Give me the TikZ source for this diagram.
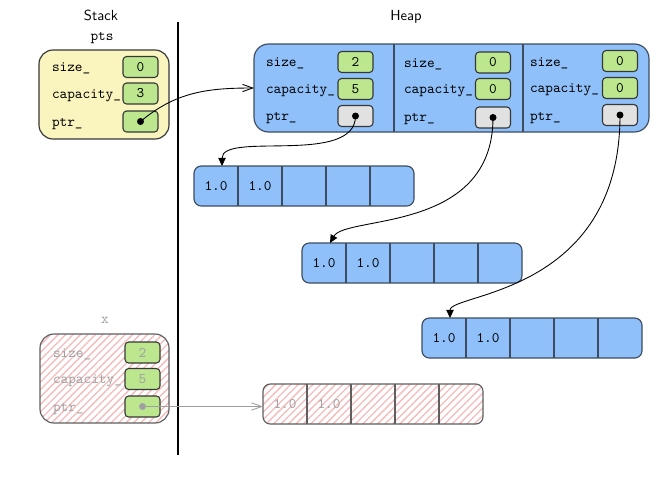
\documentclass[tikz,border=0pt]{standalone}
\usepackage{fontspec}
\usetikzlibrary{arrows.meta,patterns.meta}
\definecolor{heapblue}{RGB}{143,192,249}
\definecolor{edgeblue}{RGB}{62,76,96}
\definecolor{valgreen}{RGB}{189,231,142}
\definecolor{stackyellow}{RGB}{250,245,190}
\definecolor{ptrgray}{RGB}{225,225,225}
\definecolor{edgedark}{RGB}{55,55,55}
\definecolor{hatchpink}{RGB}{246,186,186}
\definecolor{fadetext}{RGB}{160,160,160}
\definecolor{fadeedge}{RGB}{95,95,95}
\def\pxu{0.685pt}
\begin{document}
\begin{tikzpicture}[x=\pxu,y=\pxu,font=\ttfamily,
  every node/.style={inner sep=0pt,outer sep=0pt},
  stackbox/.style={draw=edgedark,line width=0.8pt,fill=stackyellow,rounded corners=9.6pt,
    minimum width=130*\pxu,minimum height=89*\pxu},
  deadbox/.style={draw=fadeedge,line width=0.8pt,rounded corners=9.6pt,
    pattern={Lines[angle=45,distance=3.6pt,line width=0.9pt]},pattern color=hatchpink,
    minimum width=129*\pxu,minimum height=89*\pxu},
  heapbox/.style={draw=edgeblue,line width=0.8pt,fill=heapblue,rounded corners=10pt,
    minimum width=395*\pxu,minimum height=88*\pxu},
  valbox/.style={draw=edgedark,line width=0.75pt,fill=valgreen,rounded corners=2.5pt,
    minimum width=35*\pxu,minimum height=21*\pxu},
  ptrbox/.style={valbox,fill=ptrgray},
  arraybox/.style={draw=edgeblue,line width=0.8pt,fill=heapblue,rounded corners=5pt,
    minimum width=220*\pxu,minimum height=40*\pxu},
  deadarray/.style={draw=fadeedge,line width=0.8pt,rounded corners=5pt,
    pattern={Lines[angle=45,distance=3.6pt,line width=0.9pt]},pattern color=hatchpink,
    minimum width=220*\pxu,minimum height=40*\pxu},
  celldiv/.style={draw=edgeblue,line width=0.8pt},
  fieldlbl/.style={anchor=base west},
  dotnode/.style={circle,fill=black,minimum size=4.8pt},
  ptrarrow/.style={-{Triangle[length=5.5pt,width=5pt]},line width=0.6pt},
  linkarrow/.style={-{Straight Barb[length=7pt,width=5pt]},line width=0.6pt},
]
\useasboundingbox (0,0) rectangle (662,-482);

% section titles and the stack/heap divide
\node[font=\sffamily,anchor=base] (stacktitle) at (101,-20) {Stack};
\node[font=\sffamily,anchor=base] (heaptitle) at (406,-20) {Heap};
\draw[line width=0.7pt] (178,-22) -- (178,-455);

% the live vector on the stack
\node[anchor=base] (ptsname) at (102,-40) {pts};
\node[stackbox] (pts) at (104,-94.5) {};
\node[fieldlbl] (pts-sl) at (52,-71.5) {size\_};
\node[fieldlbl] (pts-cl) at (52,-98) {capacity\_};
\node[fieldlbl] (pts-pl) at (52,-126) {ptr\_};
\node[valbox] (pts-s) at (140.5,-67) {0};
\node[valbox] (pts-c) at (140.5,-93.5) {3};
\node[valbox] (pts-p) at (140.5,-121.5) {};
\node[dotnode] (d0) at (pts-p.center) {};

% the three vectors stored on the heap
\node[heapbox] (heap) at (451.5,-88) {};
\draw[celldiv] (394,-44) -- (394,-132);
\draw[celldiv] (523,-44) -- (523,-132);

\node[fieldlbl] (h1-sl) at (266,-66.5) {size\_};
\node[fieldlbl] (h1-cl) at (266,-93.5) {capacity\_};
\node[fieldlbl] (h1-pl) at (266,-120.5) {ptr\_};
\node[valbox] (h1-s) at (355.5,-62) {2};
\node[valbox] (h1-c) at (355.5,-89) {5};
\node[ptrbox] (h1-p) at (355.5,-116) {};
\node[dotnode] (d1) at (h1-p.center) {};

\node[fieldlbl] (h2-sl) at (404,-67) {size\_};
\node[fieldlbl] (h2-cl) at (404,-93.5) {capacity\_};
\node[fieldlbl] (h2-pl) at (404,-121) {ptr\_};
\node[valbox] (h2-s) at (493,-62.5) {0};
\node[valbox] (h2-c) at (493,-89) {0};
\node[ptrbox] (h2-p) at (493,-117.5) {};
\node[dotnode] (d2) at (h2-p.center) {};

\node[fieldlbl] (h3-sl) at (530,-66) {size\_};
\node[fieldlbl] (h3-cl) at (530,-92.5) {capacity\_};
\node[fieldlbl] (h3-pl) at (530,-120) {ptr\_};
\node[valbox] (h3-s) at (620,-61) {0};
\node[valbox] (h3-c) at (620,-88) {0};
\node[ptrbox] (h3-p) at (620,-115) {};
\node[dotnode] (d3) at (h3-p.center) {};

% element buffers
\foreach \nm/\L/\T in {arrA/194/166, arrB/302/243, arrC/422/318} {
  \node[arraybox] (\nm) at (\L+110,-\T-20) {};
  \foreach \k in {1,...,4} \draw[celldiv] (\L+44*\k,-\T) -- (\L+44*\k,-\T-40);
  \node (\nm-1) at (\L+22,-\T-20) {1.0};
  \node (\nm-2) at (\L+66,-\T-20) {1.0};
  \coordinate (\nm-in) at (\L+28,-\T);
}

% pointers
\draw[linkarrow] (d0.center) to[out=40,in=180] (heap.west);
\draw[ptrarrow] (d1.center) .. controls +(0,-50) and +(0,35) .. (arrA-in);
\draw[ptrarrow] (d2.center) .. controls +(0,-116) and +(16,28) .. (arrB-in);
\draw[ptrarrow] (d3.center) .. controls +(0,-180) and +(0,25) .. (arrC-in);

% the moved-from vector and its stale buffer
\node[anchor=base,text=fadetext] (xname) at (105,-323) {x};
\node[deadbox] (xv) at (104.5,-378.5) {};
\node[fieldlbl,text=fadetext] (x-sl) at (53,-357) {size\_};
\node[fieldlbl,text=fadetext] (x-cl) at (53,-383.5) {capacity\_};
\node[fieldlbl,text=fadetext] (x-pl) at (53,-411) {ptr\_};
\node[valbox,text=fadetext] (x-s) at (142.5,-352.5) {2};
\node[valbox,text=fadetext] (x-c) at (142.5,-379) {5};
\node[valbox] (x-p) at (142.5,-406.5) {};
\node[dotnode,fill=fadetext] (xd) at (x-p.center) {};

\node[deadarray] (garr) at (373,-404) {};
\foreach \k in {1,...,4} \draw[draw=fadeedge,line width=0.8pt] (263+44*\k,-384) -- (263+44*\k,-424);
\node[text=fadetext] (garr-1) at (285,-404) {1.0};
\node[text=fadetext] (garr-2) at (329,-404) {1.0};

\draw[linkarrow,fadetext] (xd.center) -- (xd.center -| garr.west);
\end{tikzpicture}
\end{document}
